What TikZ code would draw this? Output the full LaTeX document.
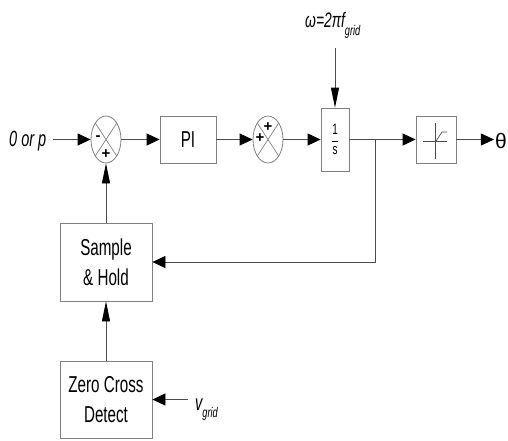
\documentclass[tikz,border=0pt]{standalone}
\usepackage{fontspec}
\setmainfont[FakeStretch=0.66]{Liberation Sans}
\newfontfamily\signfont{Liberation Sans}
\usetikzlibrary{arrows.meta,shapes.geometric,calc}
\begin{document}
\begin{tikzpicture}[x=1pt,y=-1pt,
  blockbox/.style={draw=black!50, line width=0.8pt, fill=white, inner sep=0pt, align=center, font=\fontsize{23}{30}\selectfont},
  sumnode/.style={ellipse, draw=black!50, line width=0.8pt, minimum width=30pt, minimum height=47pt, inner sep=0pt},
  xline/.style={draw=black!50, line width=0.7pt},
  signlbl/.style={inner sep=0pt, font=\signfont\bfseries\fontsize{15}{15}\selectfont},
  conn/.style={draw=black!70, line width=0.8pt},
  harrow/.style={conn, -{Triangle[length=13pt,width=12pt,color=black]}},
  varrow/.style={conn, -{Triangle[length=20pt,width=8pt,color=black]}},
  lbl/.style={inner sep=0pt, anchor=base west}
]
\useasboundingbox (0,0) rectangle (508,440);

% nodes
\node[lbl, font=\fontsize{22}{22}\selectfont\itshape] (in) at (9,146.5) {0 or p};
\coordinate (inend) at (53,139.5);
\node[sumnode] (sum1) at (106,139.5) {};
\node[blockbox, minimum width=56pt, minimum height=47pt] (pi) at (188,139.5) {PI};
\node[sumnode] (sum2) at (268,139.5) {};
\node[blockbox, minimum width=28pt, minimum height=63pt] (integ) at (335,139.5)
  {\fontsize{15}{15}\selectfont$\displaystyle\frac{\mbox{1}}{\mbox{s}}$};
\node[blockbox, minimum width=40pt, minimum height=47pt] (sat) at (436,139.5) {};
\node[inner sep=1pt, font=\signfont\fontsize{21}{21}\selectfont] (th) at (501,140.5) {θ};
\coordinate (br) at (375.5,139.5);
\node[lbl, font=\fontsize{21}{21}\selectfont\itshape] (om) at (305,27.5)
  {ω=2πf\raisebox{-8pt}{\fontsize{14}{14}\selectfont grid}};
\coordinate (omtop) at (335,48);
\node[blockbox, minimum width=92pt, minimum height=78pt] (sh) at (106,262) {Sample\\\& Hold};
\node[blockbox, minimum width=92pt, minimum height=77pt] (zcd) at (106,399.5) {Zero Cross\\Detect};
\coordinate (vgs) at (188,399.5);
\node[lbl, font=\fontsize{22}{22}\selectfont\itshape] (vg) at (195,410)
  {v\raisebox{-7pt}{\fontsize{14}{14}\selectfont grid}};

% summing junction crosses and signs
\draw[xline] (sum1.57) -- (sum1.237) (sum1.123) -- (sum1.303);
\draw[xline] (sum2.57) -- (sum2.237) (sum2.123) -- (sum2.303);
\node[signlbl] (s1m) at ($(sum1)+(-8,-1)$) {-};
\node[signlbl] (s1p) at ($(sum1)+(0,14.5)$) {+};
\node[signlbl] (s2t) at ($(sum2)+(0,-12.5)$) {+};
\node[signlbl] (s2l) at ($(sum2)+(-8,-1)$) {+};

% saturation symbol
\draw[xline, draw=black!70] ($(sat)+(-13,1.5)$) -- ($(sat)+(11,1.5)$);
\draw[xline, draw=black!70] ($(sat)+(-1,-16.5)$) -- ($(sat)+(-1,19.5)$);
\draw[xline, draw=black!70] ($(sat)+(0,1.5)$) -- ($(sat)+(6,-7.5)$) -- ($(sat)+(11,-7.5)$);

% connectors
\draw[harrow] (inend) -- (sum1);
\draw[harrow] (sum1) -- (pi);
\draw[harrow] (pi) -- (sum2);
\draw[harrow] (sum2) -- (integ);
\draw[harrow] (integ) -- (sat);
\draw[harrow] (sat) -- (sat -| th.west);
\draw[varrow] (omtop) -- (integ);
\draw[harrow] (br) |- (sh);
\draw[varrow] (sh) -- (sum1);
\draw[varrow] (zcd) -- (sh);
\draw[harrow] (vgs) -- (zcd);
\end{tikzpicture}
\end{document}
